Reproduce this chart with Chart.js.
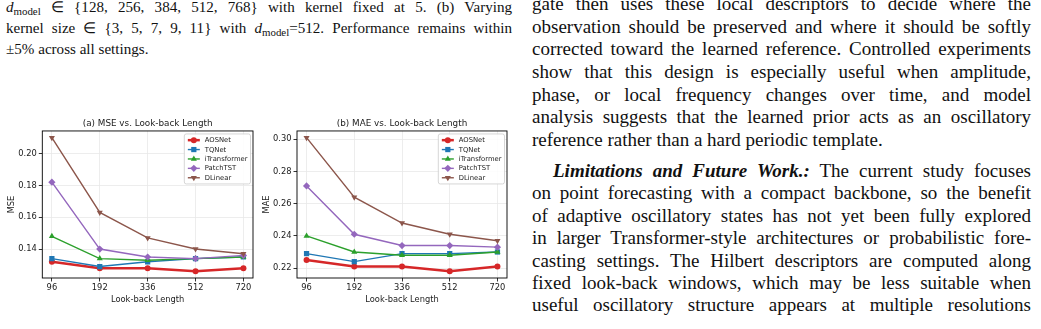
<!DOCTYPE html>
<html>
<head>
<meta charset="utf-8">
<script src="https://cdn.jsdelivr.net/npm/chart.js@4.4.1/dist/chart.umd.min.js"></script>
<style>
html, body { margin: 0; padding: 0; background: #fff; }
body { width: 1041px; height: 329px; overflow: hidden; position: relative;
       font-family: "Liberation Serif", "Times New Roman", serif; color: #111; }
.blk { position: absolute; }
.ln { text-align: justify; text-align-last: justify; }
.end { text-align: left; text-align-last: left; }
.sub { font-size: 0.72em; vertical-align: -0.28em; font-style: normal; }
.cap { left: 6px; top: -1px; width: 506px; font-size: 15.1px; line-height: 17px; }
.p1 { left: 532px; top: -6.8px; width: 499px; font-size: 19px; line-height: 22.6px; }
.p2 { left: 532px; top: 160px; width: 499px; font-size: 19px; line-height: 22.4px; }
.ind { text-indent: 21px; }
.box { position: absolute; }
</style>
</head>
<body>

<div class="blk cap">
  <div class="ln"><i>d</i><span class="sub">model</span> ∈ {128, 256, 384, 512, 768} with kernel fixed at 5. (b) Varying</div>
  <div class="ln">kernel size ∈ {3, 5, 7, 9, 11} with <i>d</i><span class="sub">model</span>=512. Performance remains within</div>
  <div class="ln end">±5% across all settings.</div>
</div>

<div class="blk p1">
  <div class="ln">gate then uses these local descriptors to decide where the</div>
  <div class="ln">observation should be preserved and where it should be softly</div>
  <div class="ln">corrected toward the learned reference. Controlled experiments</div>
  <div class="ln">show that this design is especially useful when amplitude,</div>
  <div class="ln">phase, or local frequency changes over time, and model</div>
  <div class="ln">analysis suggests that the learned prior acts as an oscillatory</div>
  <div class="ln end">reference rather than a hard periodic template.</div>
</div>

<div class="blk p2">
  <div class="ln ind"><b><i>Limitations and Future Work.:</i></b> The current study focuses</div>
  <div class="ln">on point forecasting with a compact backbone, so the benefit</div>
  <div class="ln">of adaptive oscillatory states has not yet been fully explored</div>
  <div class="ln">in larger Transformer-style architectures or probabilistic fore-</div>
  <div class="ln">casting settings. The Hilbert descriptors are computed along</div>
  <div class="ln">fixed look-back windows, which may be less suitable when</div>
  <div class="ln">useful oscillatory structure appears at multiple resolutions</div>
</div>

<div class="box" style="left:0px;top:112px;width:262px;height:193px;"><canvas id="mseChart"></canvas></div>
<div class="box" style="left:262px;top:112px;width:270px;height:193px;"><canvas id="maeChart"></canvas></div>

<script>
// look-back lengths on the x axis
const lookback = ['96', '192', '336', '512', '720'];
const models = ['AOSNet', 'TQNet', 'iTransformer', 'PatchTST', 'DLinear'];

// (a) MSE
const mseAOSNet = [0.132, 0.128, 0.128, 0.126, 0.128];
const mseTQNet = [0.134, 0.129, 0.132, 0.134, 0.135];
const mseITransformer = [0.148, 0.134, 0.133, 0.134, 0.135];
const msePatchTST = [0.182, 0.140, 0.135, 0.134, 0.136];
const mseDLinear = [0.210, 0.163, 0.147, 0.140, 0.137];

// (b) MAE
const maeAOSNet = [0.225, 0.221, 0.221, 0.218, 0.221];
const maeTQNet = [0.229, 0.224, 0.229, 0.229, 0.230];
const maeITransformer = [0.240, 0.230, 0.228, 0.228, 0.230];
const maePatchTST = [0.271, 0.241, 0.234, 0.234, 0.233];
const maeDLinear = [0.301, 0.264, 0.248, 0.241, 0.237];

const mseTicks = [0.14, 0.16, 0.18, 0.20];
const maeTicks = [0.22, 0.24, 0.26, 0.28, 0.30];

const colors = ['#d62728', '#1f77b4', '#2ca02c', '#9467bd', '#8c564b'];
const markers = ['circle', 'rect', 'triangle', 'rectRot', 'triangle'];
const rotations = [0, 0, 0, 0, 180];
const radii = [3, 3.7, 3.5, 3.6, 3.5];
const widths = [2.5, 1.4, 1.4, 1.4, 1.4];

Chart.defaults.font.family = 'DejaVu Sans';
Chart.defaults.color = '#222';

function marker(ctx, style, x, y, r, rot) {
    ctx.beginPath();
    if (style === 'circle') {
        ctx.arc(x, y, r, 0, Math.PI * 2);
    } else if (style === 'rect') {
        const s = r * Math.SQRT1_2;
        ctx.rect(x - s, y - s, 2 * s, 2 * s);
    } else if (style === 'rectRot') {
        ctx.moveTo(x, y - r); ctx.lineTo(x + r, y); ctx.lineTo(x, y + r); ctx.lineTo(x - r, y);
        ctx.closePath();
    } else {
        const d = rot ? -1 : 1;
        ctx.moveTo(x, y - d * r);
        ctx.lineTo(x + r * 0.866, y + d * r * 0.5);
        ctx.lineTo(x - r * 0.866, y + d * r * 0.5);
        ctx.closePath();
    }
    ctx.fill();
}

// legend drawn inside the axes, top right, like matplotlib's
const innerLegend = {
    id: 'innerLegend',
    afterDatasetsDraw(chart) {
        const ctx = chart.ctx;
        const area = chart.chartArea;
        const sets = chart.data.datasets;
        ctx.save();
        ctx.font = '6.8px "DejaVu Sans"';
        const tw = Math.max(...sets.map(d => ctx.measureText(d.label).width));
        const rowH = 9.4;
        const w = 3.5 + 12 + 5 + tw + 3;
        const h = sets.length * rowH + 3;
        const x0 = area.right - 2.5 - w;
        const y0 = area.top + 3;
        ctx.fillStyle = 'rgba(255,255,255,0.85)';
        ctx.strokeStyle = '#cccccc';
        ctx.lineWidth = 0.8;
        ctx.beginPath();
        ctx.roundRect(x0, y0, w, h, 2);
        ctx.fill();
        ctx.stroke();
        sets.forEach((d, i) => {
            const cy = y0 + 1.5 + rowH * i + rowH / 2;
            const hx = x0 + 3.5;
            ctx.strokeStyle = d.borderColor;
            ctx.lineWidth = d.borderWidth;
            ctx.beginPath();
            ctx.moveTo(hx, cy);
            ctx.lineTo(hx + 12, cy);
            ctx.stroke();
            ctx.fillStyle = d.borderColor;
            marker(ctx, d.pointStyle, hx + 6, cy, d.pointRadius, d.pointRotation);
            ctx.fillStyle = '#222';
            ctx.textBaseline = 'middle';
            ctx.fillText(d.label, hx + 12 + 5, cy + 0.3);
        });
        ctx.restore();
    }
};

const spines = {
    id: 'spines',
    afterDraw(chart) {
        const a = chart.chartArea;
        const ctx = chart.ctx;
        ctx.save();
        ctx.strokeStyle = '#000';
        ctx.lineWidth = 0.9;
        ctx.strokeRect(a.left, a.top, a.right - a.left, a.bottom - a.top);
        ctx.restore();
    }
};

function makeChart(id, title, yTitle, series, yTicks, yWidth, yTitlePad, padRight) {
    const all = series.flat();
    const lo = Math.min(...all), hi = Math.max(...all);
    const m = (hi - lo) * 0.05;
    const datasets = series.map((values, i) => ({
        label: models[i],
        data: values.map((v, j) => ({ x: j, y: v })),
        borderColor: colors[i],
        backgroundColor: colors[i],
        borderWidth: widths[i],
        pointStyle: markers[i],
        pointRotation: rotations[i],
        pointRadius: radii[i],
        pointBorderWidth: 0,
        pointBackgroundColor: colors[i],
        tension: 0,
        order: series.length - i
    }));
    return new Chart(document.getElementById(id), {
        type: 'line',
        data: { datasets: datasets },
        options: {
            responsive: true,
            maintainAspectRatio: false,
            animation: false,
            layout: { padding: { left: 0, top: 0, bottom: 0, right: padRight } },
            plugins: {
                legend: { display: false },
                tooltip: { enabled: false },
                title: {
                    display: true,
                    text: title,
                    fullSize: false,
                    font: { size: 8.8, weight: 'normal' },
                    padding: { top: 6.7, bottom: 1.7 },
                    color: '#222'
                }
            },
            scales: {
                x: {
                    type: 'linear',
                    min: -0.2,
                    max: lookback.length - 0.8,
                    afterBuildTicks: s => { s.ticks = lookback.map((_, i) => ({ value: i })); },
                    afterFit: s => { s.height = 27; },
                    border: { display: false },
                    grid: { color: '#e8e8e8', lineWidth: 0.8, tickColor: '#000', tickLength: 3.5, tickWidth: 0.8 },
                    ticks: { autoSkip: false, maxRotation: 0, padding: 1, font: { size: 8.3 },
                             callback: v => lookback[v] },
                    title: { display: true, text: 'Look-back Length', font: { size: 8.3 },
                             padding: { top: 0, bottom: 0.3 } }
                },
                y: {
                    min: lo - m,
                    max: hi + m,
                    afterBuildTicks: s => { s.ticks = yTicks.map(v => ({ value: v })); },
                    afterFit: s => { s.width = yWidth; },
                    border: { display: false },
                    grid: { color: '#e8e8e8', lineWidth: 0.8, tickColor: '#000', tickLength: 3.5, tickWidth: 0.8 },
                    ticks: { autoSkip: false, padding: 2, font: { size: 8.3 }, callback: v => v.toFixed(2) },
                    title: { display: true, text: yTitle, font: { size: 8.3 },
                             padding: { top: yTitlePad, bottom: 0 } }
                }
            }
        },
        plugins: [innerLegend, spines]
    });
}

makeChart('mseChart', '(a) MSE vs. Look-back Length', 'MSE',
    [mseAOSNet, mseTQNet, mseITransformer, msePatchTST, mseDLinear], mseTicks, 42.3, 7, 9);
makeChart('maeChart', '(b) MAE vs. Look-back Length', 'MAE',
    [maeAOSNet, maeTQNet, maeITransformer, maePatchTST, maeDLinear], maeTicks, 35, 0, 25);
</script>
</body>
</html>
